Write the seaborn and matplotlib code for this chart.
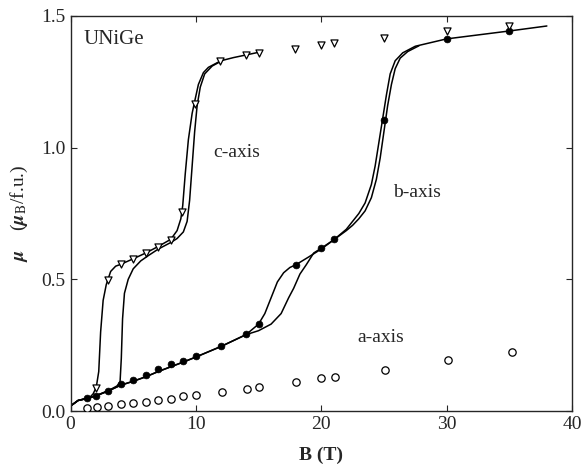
import matplotlib
matplotlib.use("Agg")
import matplotlib.pyplot as plt
import seaborn as sns
import pandas as pd

# measured points
c_B = [2.0, 3.0, 4.0, 5.0, 6.0, 7.0, 8.0, 8.9, 9.9, 11.9, 14.0, 15.0, 17.9, 20.0, 21.0, 25.0, 30.0, 35.0]
c_mu = [0.087, 0.497, 0.557, 0.577, 0.601, 0.624, 0.649, 0.757, 1.165, 1.329, 1.352, 1.361, 1.376, 1.39, 1.396, 1.415, 1.443, 1.462]

b_B = [1.35, 2.0, 3.0, 4.0, 5.0, 6.0, 7.0, 8.0, 9.0, 10.0, 12.0, 14.0, 15.0, 18.0, 20.0, 21.0, 25.0, 30.0, 35.0]
b_mu = [0.048, 0.057, 0.076, 0.102, 0.118, 0.137, 0.16, 0.177, 0.19, 0.209, 0.248, 0.292, 0.329, 0.556, 0.62, 0.652, 1.105, 1.413, 1.443]

a_B = [1.35, 2.1, 3.0, 4.0, 5.0, 6.0, 7.0, 8.0, 9.0, 10.0, 12.1, 14.1, 15.0, 18.0, 20.0, 21.1, 25.1, 30.1, 35.2]
a_mu = [0.01, 0.014, 0.02, 0.027, 0.03, 0.035, 0.04, 0.047, 0.056, 0.06, 0.072, 0.085, 0.092, 0.109, 0.125, 0.13, 0.157, 0.194, 0.225]

# continuous magnetization curves (two sweeps per axis)
c1_B = [0.0, 0.6, 1.0, 1.5, 1.8, 2.05, 2.25, 2.4, 2.6, 2.85, 3.2, 3.6, 4.0, 5.0, 6.0, 7.0, 8.0, 8.5, 8.8, 8.95, 9.15, 9.4, 9.7, 9.9, 10.2, 10.6, 11.0, 12.0, 13.0, 14.0, 15.0]
c1_mu = [0.019, 0.04, 0.045, 0.05, 0.065, 0.09, 0.15, 0.3, 0.42, 0.48, 0.53, 0.55, 0.557, 0.578, 0.6, 0.625, 0.652, 0.685, 0.73, 0.78, 0.9, 1.03, 1.13, 1.175, 1.24, 1.285, 1.305, 1.33, 1.342, 1.352, 1.362]

c2_B = [0.0, 0.6, 1.35, 2.0, 3.0, 3.7, 3.95, 4.05, 4.15, 4.3, 4.6, 5.0, 5.6, 6.2, 7.0, 8.0, 8.5, 9.0, 9.3, 9.5, 9.7, 9.9, 10.1, 10.35, 10.7, 11.3, 12.0]
c2_mu = [0.019, 0.04, 0.048, 0.058, 0.077, 0.095, 0.11, 0.2, 0.35, 0.447, 0.5, 0.54, 0.57, 0.59, 0.615, 0.64, 0.655, 0.68, 0.72, 0.8, 0.93, 1.06, 1.16, 1.23, 1.28, 1.31, 1.328]

b1_B = [0.0, 0.6, 1.35, 2.0, 3.0, 4.0, 5.0, 6.0, 7.0, 8.0, 9.0, 10.0, 12.0, 14.0, 15.0, 15.5, 16.0, 16.5, 17.0, 17.5, 18.0, 19.0, 20.0, 21.0, 22.0, 22.5, 23.0, 23.5, 24.0, 24.3, 24.6, 24.9, 25.2, 25.5, 25.9, 26.5, 27.5, 30.0, 35.0, 38.0]
b1_mu = [0.019, 0.04, 0.048, 0.057, 0.076, 0.098, 0.113, 0.13, 0.15, 0.168, 0.186, 0.205, 0.245, 0.29, 0.33, 0.37, 0.43, 0.49, 0.525, 0.545, 0.556, 0.585, 0.615, 0.65, 0.69, 0.72, 0.75, 0.79, 0.86, 0.93, 1.02, 1.11, 1.2, 1.28, 1.33, 1.36, 1.385, 1.413, 1.443, 1.462]

b2_B = [0.0, 0.6, 1.35, 2.0, 3.0, 4.0, 5.0, 6.0, 7.0, 8.0, 9.0, 10.0, 12.0, 14.0, 15.0, 16.0, 16.8, 17.4, 17.8, 18.3, 18.8, 19.4, 20.0, 21.0, 22.0, 22.5, 23.0, 23.5, 24.0, 24.4, 24.7, 25.0, 25.3, 25.6, 25.9, 26.3, 26.9, 27.8]
b2_mu = [0.019, 0.04, 0.048, 0.057, 0.076, 0.098, 0.113, 0.13, 0.15, 0.168, 0.186, 0.205, 0.245, 0.29, 0.305, 0.33, 0.37, 0.43, 0.466, 0.52, 0.555, 0.6, 0.618, 0.65, 0.685, 0.705, 0.73, 0.76, 0.81, 0.88, 0.96, 1.06, 1.16, 1.24, 1.3, 1.34, 1.365, 1.387]

sns.set_style("ticks")
plt.rcParams['font.family'] = ['Liberation Serif', 'DejaVu Serif']
plt.rcParams['mathtext.fontset'] = 'stix'

fig = plt.figure(figsize=(5.83, 4.70), dpi=100)
ax = fig.add_axes([0.121, 0.1255, 0.860, 0.8405])

for xs, ys in [(c1_B, c1_mu), (c2_B, c2_mu), (b1_B, b1_mu), (b2_B, b2_mu)]:
    sns.lineplot(x=xs, y=ys, sort=False, color='black', lw=1.1, ax=ax)

sns.scatterplot(x=a_B, y=a_mu, marker='o', s=28, facecolor='white', edgecolor='black', linewidth=0.9, ax=ax, zorder=3)
sns.scatterplot(x=b_B, y=b_mu, marker='o', s=24, color='black', edgecolor='black', linewidth=0.5, ax=ax, zorder=3)
sns.scatterplot(x=c_B, y=c_mu, marker='v', s=26, facecolor='white', edgecolor='black', linewidth=0.9, ax=ax, zorder=4)

ax.set_xlim(0, 40)
ax.set_ylim(0, 1.5)
ax.set_xticks([0, 10, 20, 30, 40])
ax.set_yticks([0.0, 0.5, 1.0, 1.5])
ax.set_yticklabels(['0.0', '0.5', '1.0', '1.5'])
ax.tick_params(direction='in', top=True, right=True, labelsize=14, length=4, width=0.8)
for sp in ax.spines.values():
    sp.set_linewidth(1.0)

ax.set_xlabel('B (T)', fontsize=14, fontweight='bold', labelpad=10)
ax.set_ylabel(r'$\boldsymbol{\mu}$    ($\boldsymbol{\mu}_{\rm B}$/f.u.)', fontsize=14, labelpad=8)

ax.text(1.0, 1.41, 'UNiGe', fontsize=15, va='center')
ax.text(11.4, 0.98, 'c-axis', fontsize=14, va='center')
ax.text(25.7, 0.83, 'b-axis', fontsize=14, va='center')
ax.text(22.9, 0.28, 'a-axis', fontsize=14, va='center')

fig.savefig('out.png', dpi=100)
